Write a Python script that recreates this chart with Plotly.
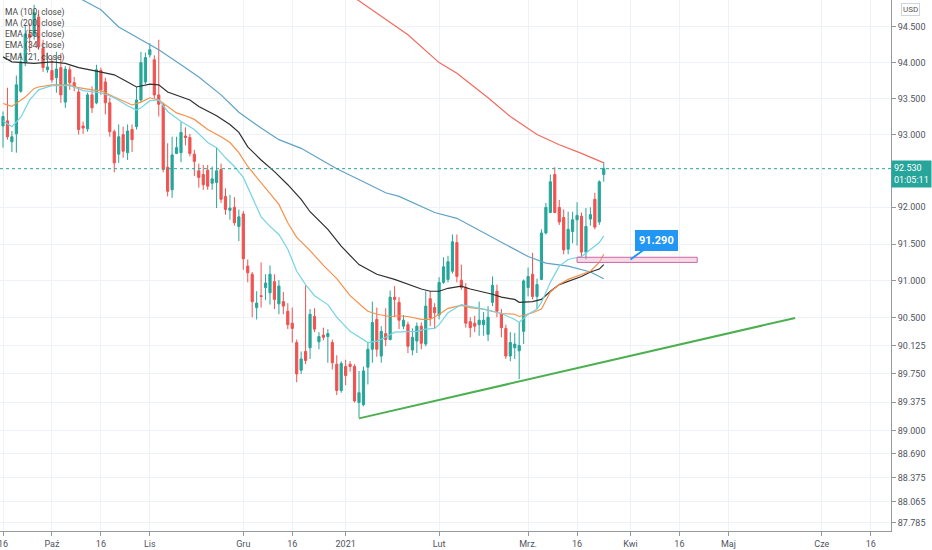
import math
import pandas as pd
import plotly.graph_objects as go

# daily candles, 16 Sep 2020 - 24 Mar 2021 (weekdays)
dates = pd.bdate_range('2020-09-16', '2021-03-24')

opens = [93.12, 93.19, 92.90, 93.01, 93.60, 94.00, 94.40, 94.38, 94.64, 94.20,
         93.90, 93.89, 93.79, 93.93, 93.45, 93.90, 93.72, 93.59, 93.12, 93.08,
         93.55, 93.44, 93.89, 93.73, 93.44, 93.04, 92.73, 93.00, 92.75, 93.07,
         93.11, 93.48, 93.73, 94.11, 94.04, 93.55, 93.41, 92.55, 92.24, 92.74,
         92.75, 92.98, 92.96, 92.73, 92.50, 92.45, 92.51, 92.33, 92.34, 92.52,
         92.15, 91.96, 92.00, 91.74, 91.91, 91.20, 91.09, 90.64, 90.80, 90.91,
         90.84, 90.99, 90.69, 90.72, 90.59, 90.43, 90.17, 89.80, 90.05, 90.10,
         90.52, 90.18, 90.27, 90.25, 90.17, 89.88, 89.53, 89.85, 89.88, 89.85,
         89.37, 89.34, 89.84, 90.08, 90.48, 89.99, 90.29, 90.21, 90.78, 90.71,
         90.39, 90.41, 90.07, 90.19, 90.39, 90.15, 90.76, 90.64, 90.54, 90.98,
         91.02, 91.13, 91.52, 91.01, 90.91, 90.45, 90.43, 90.41, 90.41, 90.28,
         90.71, 90.86, 90.56, 90.36, 89.99, 90.10, 90.06, 90.32, 90.91, 91.09,
         90.79, 91.02, 91.65, 91.93, 92.45, 92.00, 91.86, 91.43, 91.67, 91.83,
         91.88, 91.39, 91.84, 92.11, 91.80, 92.45]
highs = [93.32, 93.65, 93.05, 93.82, 94.14, 94.52, 94.55, 94.81, 94.74, 94.32,
         94.14, 94.07, 94.15, 94.13, 93.95, 93.95, 93.80, 93.65, 93.18, 93.58,
         93.67, 93.97, 93.93, 93.79, 93.51, 93.07, 93.14, 93.11, 93.14, 93.14,
         93.66, 94.15, 94.14, 94.27, 94.10, 94.32, 93.44, 92.88, 92.97, 92.97,
         93.18, 93.10, 93.01, 92.79, 92.60, 92.58, 92.58, 92.56, 92.82, 92.60,
         92.26, 92.17, 92.14, 91.97, 91.95, 91.29, 91.12, 90.86, 91.25, 91.09,
         91.21, 91.09, 91.01, 90.85, 90.70, 90.64, 90.21, 90.05, 90.94, 90.62,
         90.63, 90.31, 90.37, 90.35, 90.21, 90.00, 89.92, 89.94, 89.92, 89.88,
         89.79, 89.85, 90.17, 90.72, 90.64, 90.39, 90.63, 90.87, 90.93, 90.78,
         90.54, 90.45, 90.36, 90.44, 90.44, 90.86, 90.86, 90.70, 91.05, 91.32,
         91.34, 91.63, 91.63, 91.22, 90.97, 90.51, 90.53, 90.72, 90.58, 90.66,
         91.06, 90.95, 90.62, 90.41, 90.31, 90.30, 90.44, 91.02, 91.18, 91.38,
         91.03, 91.70, 92.06, 92.45, 92.55, 92.10, 91.97, 91.94, 91.94, 92.07,
         91.93, 91.99, 92.00, 92.20, 92.37, 92.62]
lows = [92.82, 92.93, 92.76, 92.75, 93.58, 93.95, 94.15, 94.32, 94.18, 93.87,
        93.86, 93.72, 93.58, 93.44, 93.37, 93.62, 93.60, 93.00, 93.01, 93.04,
        93.30, 93.42, 93.55, 93.28, 92.97, 92.48, 92.61, 92.68, 92.65, 92.76,
        93.07, 93.45, 93.70, 94.07, 93.50, 93.25, 92.48, 92.15, 92.13, 92.73,
        92.62, 92.85, 92.70, 92.43, 92.27, 92.24, 92.24, 92.24, 91.99, 92.06,
        91.90, 91.83, 91.75, 91.54, 91.15, 90.98, 90.51, 90.48, 90.64, 90.74,
        90.68, 90.62, 90.55, 90.55, 90.35, 90.17, 89.64, 89.75, 89.88, 89.95,
        90.31, 90.08, 90.20, 89.90, 89.81, 89.47, 89.50, 89.60, 89.78, 89.37,
        89.17, 89.32, 89.61, 89.90, 89.98, 89.90, 90.12, 90.20, 90.51, 90.35,
        90.35, 90.03, 90.00, 90.03, 90.08, 90.12, 90.39, 90.35, 90.48, 90.96,
        90.98, 91.10, 90.98, 90.88, 90.37, 90.24, 90.31, 90.26, 90.26, 90.19,
        90.66, 90.51, 90.24, 89.95, 89.92, 89.95, 89.68, 90.15, 90.79, 90.75,
        90.62, 91.01, 91.63, 91.92, 91.92, 91.76, 91.36, 91.36, 91.51, 91.48,
        91.33, 91.29, 91.75, 91.70, 91.76, 92.35]
closes = [93.25, 92.97, 92.97, 93.69, 94.01, 94.40, 94.35, 94.70, 94.22, 93.93,
          93.94, 93.76, 93.91, 93.55, 93.91, 93.72, 93.66, 93.07, 93.09, 93.55,
          93.37, 93.90, 93.62, 93.44, 93.04, 92.61, 92.97, 92.77, 93.05, 92.93,
          93.48, 94.00, 94.07, 94.18, 93.55, 93.42, 92.52, 92.22, 92.72, 92.82,
          93.03, 92.96, 92.74, 92.63, 92.41, 92.31, 92.29, 92.39, 92.50, 92.11,
          91.97, 91.99, 91.79, 91.87, 91.30, 91.11, 90.72, 90.70, 90.79, 90.97,
          91.09, 90.75, 90.93, 90.66, 90.41, 90.36, 89.75, 89.95, 89.93, 90.55,
          90.35, 90.25, 90.24, 90.29, 89.90, 89.53, 89.89, 89.73, 89.85, 89.39,
          89.50, 89.79, 90.08, 90.44, 90.08, 90.32, 90.21, 90.78, 90.75, 90.47,
          90.47, 90.12, 90.24, 90.39, 90.16, 90.66, 90.50, 90.57, 90.98, 91.19,
          91.26, 91.53, 91.06, 90.91, 90.43, 90.37, 90.39, 90.47, 90.47, 90.51,
          90.94, 90.59, 90.37, 89.99, 90.17, 90.15, 90.13, 91.00, 91.06, 90.79,
          90.95, 91.65, 92.00, 92.35, 91.93, 91.80, 91.42, 91.70, 91.83, 91.89,
          91.39, 91.74, 91.90, 91.73, 92.35, 92.53]

# moving averages (day index -> value)
ema21_idx = [0, 2, 4, 6, 8, 11, 15, 18, 22, 25, 28, 30, 31, 33, 35, 37, 40, 43, 46, 48,
             50, 52, 54, 56, 58, 60, 62, 64, 66, 68, 70, 73, 75, 78, 80, 82, 84, 86, 88, 91,
             93, 95, 97, 98, 100, 103, 105, 108, 110, 112, 115, 116, 118, 120, 121, 123, 125, 127, 130, 132,
             134, 135]
ema21 = [93.19, 93.11, 93.24, 93.48, 93.62, 93.68, 93.68, 93.61, 93.58, 93.51, 93.40, 93.34, 93.37, 93.47, 93.48, 93.32, 93.18, 93.07, 92.89, 92.82,
         92.68, 92.56, 92.41, 92.13, 91.87, 91.74, 91.63, 91.43, 91.13, 90.95, 90.80, 90.68, 90.51, 90.32, 90.24, 90.17, 90.19, 90.24, 90.31, 90.32,
         90.32, 90.35, 90.36, 90.41, 90.57, 90.68, 90.66, 90.62, 90.59, 90.56, 90.48, 90.44, 90.55, 90.62, 90.71, 90.98, 91.20, 91.29, 91.33, 91.43,
         91.52, 91.61]

ema34_idx = [0, 2, 5, 7, 8, 11, 15, 17, 20, 22, 25, 29, 31, 33, 35, 37, 39, 41, 43, 46,
             49, 51, 53, 55, 58, 60, 62, 64, 66, 69, 72, 75, 78, 81, 82, 84, 87, 89, 91, 94,
             96, 98, 100, 103, 105, 108, 110, 112, 115, 116, 119, 121, 123, 125, 127, 130, 132, 134, 135]
ema34 = [93.43, 93.39, 93.52, 93.64, 93.66, 93.69, 93.69, 93.65, 93.62, 93.61, 93.52, 93.41, 93.45, 93.51, 93.48, 93.39, 93.30, 93.26, 93.21, 93.07,
         92.97, 92.89, 92.75, 92.56, 92.34, 92.20, 92.04, 91.79, 91.59, 91.41, 91.21, 91.03, 90.80, 90.64, 90.59, 90.55, 90.52, 90.53, 90.52, 90.48,
         90.48, 90.55, 90.63, 90.67, 90.64, 90.62, 90.59, 90.56, 90.55, 90.52, 90.57, 90.62, 90.85, 90.95, 91.02, 91.09, 91.13, 91.25, 91.36]

ema55_idx = [0, 2, 7, 11, 14, 17, 21, 25, 28, 30, 33, 35, 37, 40, 42, 44, 48, 51, 53, 55,
             58, 61, 64, 67, 69, 73, 76, 80, 84, 88, 91, 94, 96, 98, 100, 103, 105, 108, 110, 112,
             115, 116, 119, 121, 123, 125, 127, 130, 132, 134, 135]
ema55 = [94.08, 94.01, 93.99, 94.01, 93.99, 93.93, 93.88, 93.83, 93.73, 93.66, 93.70, 93.69, 93.59, 93.52, 93.48, 93.39, 93.26, 93.14, 93.03, 92.83,
         92.65, 92.49, 92.31, 92.11, 91.94, 91.70, 91.47, 91.22, 91.09, 91.02, 90.95, 90.89, 90.86, 90.86, 90.90, 90.93, 90.89, 90.85, 90.82, 90.78,
         90.75, 90.71, 90.72, 90.75, 90.86, 90.95, 90.99, 91.06, 91.12, 91.16, 91.22]

ma100_idx = [17, 22, 26, 31, 35, 40, 44, 49, 53, 58, 62, 67, 71, 75, 81, 86, 89, 93, 97, 102,
             106, 110, 114, 118, 122, 127, 132, 135]
ma100 = [94.91, 94.74, 94.50, 94.32, 94.18, 93.97, 93.80, 93.55, 93.31, 93.09, 92.93, 92.81, 92.67, 92.53, 92.35, 92.20, 92.15, 92.04, 91.93, 91.85,
         91.72, 91.60, 91.47, 91.33, 91.24, 91.20, 91.12, 91.03]

ma200_idx = [79, 87, 91, 98, 102, 109, 114, 120, 125, 130, 135]
ma200 = [94.91, 94.56, 94.39, 94.00, 93.85, 93.51, 93.25, 93.00, 92.86, 92.74, 92.61]

# drawings
trend_dates = ['2021-01-06', '2021-05-24']
trend_values = [89.16, 90.50]
zone_dates = ['2021-03-16', '2021-04-22']
zone_values = [91.25, 91.32]
callout_date = '2021-04-01'
callout_value = 91.29
last_price = 92.53

tick_prices = [94.5, 94.0, 93.5, 93.0, 92.0, 91.5, 91.0, 90.5, 90.125, 89.75,
               89.375, 89.0, 88.69, 88.375, 88.065, 87.785]
tick_dates = ['2020-09-16', '2020-10-01', '2020-10-16', '2020-11-02', '2020-12-01',
              '2020-12-16', '2021-01-01', '2021-02-01', '2021-03-01', '2021-03-16',
              '2021-04-01', '2021-04-16', '2021-05-03', '2021-06-01', '2021-06-16']
tick_names = ['16', 'Paź', '16', 'Lis', 'Gru', '16', '2021', 'Lut', 'Mrz.', '16',
              'Kwi', '16', 'Maj', 'Cze', '16']

indicators = [
    ('MA (100, close)', ma100_idx, ma100, '#5fa3c4'),
    ('MA (200, close)', ma200_idx, ma200, '#f26b5f'),
    ('EMA (55, close)', ema55_idx, ema55, '#2f2f2f'),
    ('EMA (34, close)', ema34_idx, ema34, '#f7904a'),
    ('EMA (21, close)', ema21_idx, ema21, '#74d4e4'),
]

fig = go.Figure()

for name, idx, vals, color in indicators:
    fig.add_trace(go.Scatter(x=[dates[i] for i in idx], y=vals, mode='lines', name=name,
                             line=dict(color=color, width=1.2), showlegend=False))

fig.add_trace(go.Candlestick(
    x=dates, open=opens, high=highs, low=lows, close=closes,
    increasing=dict(line=dict(color='#26a69a', width=1), fillcolor='#26a69a'),
    decreasing=dict(line=dict(color='#ef5350', width=1), fillcolor='#ef5350'),
    whiskerwidth=0, showlegend=False))

fig.add_trace(go.Scatter(x=trend_dates, y=trend_values, mode='lines',
                         line=dict(color='#4caf50', width=2), showlegend=False))

# rectangle zone and last price line
fig.add_shape(type='rect', xref='x', yref='y', x0=zone_dates[0], x1=zone_dates[1],
              y0=zone_values[0], y1=zone_values[1],
              line=dict(color='#c96aa5', width=1), fillcolor='rgba(240,170,205,0.45)')
fig.add_shape(type='line', xref='paper', yref='y', x0=0, x1=1, y0=last_price, y1=last_price,
              line=dict(color='#26a69a', width=1, dash='dot'))

# callout
fig.add_annotation(x=callout_date, y=math.log10(callout_value), text='<b>91.290</b>',
                   showarrow=True, arrowhead=0, arrowwidth=2, arrowcolor='#2196f3',
                   ax=26, ay=-19, bgcolor='#2196f3', bordercolor='#2196f3', borderpad=3,
                   font=dict(color='white', size=11, family='Roboto'))

# price tag on axis
fig.add_annotation(xref='paper', x=1, xanchor='left', y=math.log10(last_price), yanchor='top',
                   yshift=9, text='%.3f<br>01:05:11' % last_price, showarrow=False, align='left',
                   bgcolor='#26a69a', borderpad=2, font=dict(color='white', size=9, family='Roboto'))

fig.add_annotation(xref='paper', yref='paper', x=1, y=1, xanchor='left', yanchor='top',
                   xshift=10, yshift=-3, text='USD', showarrow=False, bordercolor='#d1d4dc',
                   borderwidth=1, borderpad=1, font=dict(color='#555', size=8, family='Roboto'))

# indicator titles
for k, item in enumerate(indicators):
    fig.add_annotation(xref='paper', yref='paper', x=0, y=1, xanchor='left', yanchor='middle',
                       xshift=3, yshift=-12 - 11.3 * k, text=item[0], showarrow=False,
                       font=dict(color='#4a4a4a', size=8.5, family='Roboto'))

fig.update_layout(
    width=932, height=550,
    margin=dict(l=0, r=41, t=0, b=19),
    paper_bgcolor='white', plot_bgcolor='white',
    font=dict(family='Roboto', size=9, color='#50535e'),
    showlegend=False,
    xaxis=dict(type='date', rangebreaks=[dict(bounds=['sat', 'mon'])],
               range=['2020-09-15 07:49', '2021-06-22 13:12'],
               tickvals=tick_dates, ticktext=tick_names, tickangle=0,
               ticklabeloverflow='allow', automargin=False,
               showgrid=True, gridcolor='#eef2f7', zeroline=False,
               ticks='outside', ticklen=4, tickcolor='#9598a1',
               showline=True, linecolor='#9598a1', linewidth=1,
               rangeslider=dict(visible=False), fixedrange=True),
    yaxis=dict(type='log', side='right', automargin=False,
               range=[1.942901, 1.977168],
               tickvals=tick_prices, ticktext=['%.3f' % v for v in tick_prices],
               showgrid=True, gridcolor='#eef2f7', zeroline=False,
               ticks='outside', ticklen=4, tickcolor='#9598a1',
               showline=True, linecolor='#9598a1', linewidth=1, fixedrange=True),
)

# the page has a default 8px body margin; drop it so the chart fills the window
fig.write_html('out.html', config={'displayModeBar': False},
               post_script="document.body.style.margin='0px';")
